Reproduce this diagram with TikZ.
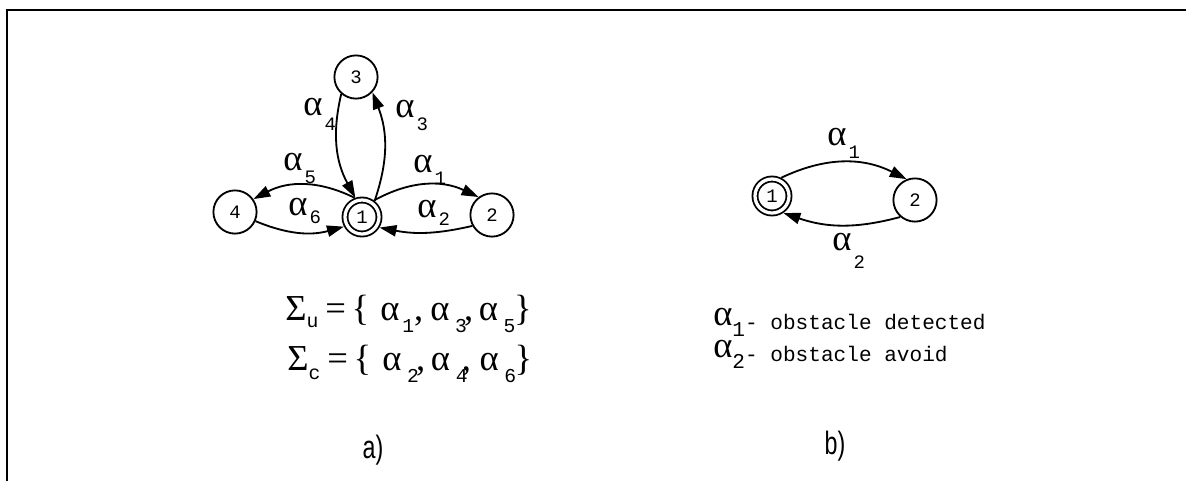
\documentclass[tikz,border=0pt]{standalone}
\usepackage{fontspec}
\setmainfont{Liberation Serif}
\setmonofont{Liberation Mono}
\newfontfamily\capfont[FakeStretch=0.72]{Liberation Sans}
\usepackage{tikz}
\usetikzlibrary{arrows.meta}

\newcommand{\numfont}{\ttfamily\fontsize{13.5}{14}\selectfont}
\newcommand{\legfont}{\ttfamily\fontsize{15}{15}\selectfont}
% alpha with a lowered mono index
\newcommand{\alab}[2][10pt]{α\hspace{1.5pt}\raisebox{-#1}{\numfont #2}}
\newcommand{\sd}[2][9pt]{\raisebox{-#1}{\ttfamily\fontsize{14}{14}\selectfont #2}}

\begin{document}
\begin{tikzpicture}[x=0.025cm, y=-0.025cm,
  st/.style={draw, circle, line width=1.3pt, minimum size=1.08cm, inner sep=0pt, font=\numfont},
  acc/.style={st, double, double distance=2.3pt, minimum size=0.85cm, outer sep=2.5pt},
  arr/.style={-{Triangle[length=12pt,width=8pt]}, line width=1.3pt},
  lbl/.style={anchor=base west, inner sep=0pt, font=\fontsize{26}{28}\selectfont},
  captxt/.style={inner sep=0pt, font=\capfont\fontsize{23}{26}\selectfont},
]
\useasboundingbox (0,0) rectangle (1186,481);
\draw[line width=2pt] (7,481) -- (7,10) -- (1186,10);

% a) automaton
\node[st]  (a3) at (356,77)  {3};
\node[acc] (a1) at (362,217) {1};
\node[st]  (a4) at (235,212) {4};
\node[st]  (a2) at (492,215) {2};
\draw[arr] (a3.229) to[bend right=21] (a1.109);
\draw[arr] (a1.52)  to[bend right=20] (a3.317);
\draw[arr] (a1.111) to[bend right=27] (a4.35);
\draw[arr] (a4.336) to[bend right=19] (a1.208);
\draw[arr] (a1.54)  to[bend left=27]  (a2.127);
\draw[arr] (a2.209) to[bend left=12]  (a1.329);
\node[lbl] (l4) at (303,115) {\alab[11pt]{4}};
\node[lbl] (l3) at (395,117) {\alab[9.5pt]{3}};
\node[lbl] (l5) at (283,170) {\alab[9.5pt]{5}};
\node[lbl] (l6) at (288,215) {\alab[6pt]{6}};
\node[lbl] (l1) at (413,172) {\alab[9pt]{1}};
\node[lbl] (l2) at (417,217) {\alab[6pt]{2}};
\node[lbl] (su) at (285,320) {Σ\sd[5pt]{u}\hspace{5pt}=\hspace{4pt}\{\hspace{8pt}α\hspace{2pt}\sd{1},\hspace{5pt}α\hspace{4pt}\sd{3}\kern-2pt,\hspace{4pt}α\hspace{4pt}\sd{5}\kern-1pt\}};
\node[lbl] (sc) at (287,370) {Σ\sd[7pt]{c}\hspace{5pt}=\hspace{4pt}\{\hspace{8pt}α\hspace{4pt}\sd{2}\kern-2pt,\hspace{4pt}α\hspace{4pt}\sd{4}\kern-4pt,\hspace{6pt}α\hspace{4pt}\sd{6}\kern-1pt\}};
\node[captxt] (ca) at (373,450) {a)};

% b) automaton
\node[acc] (b1) at (772,196) {1};
\node[st]  (b2) at (915,200) {2};
\draw[arr] (b1.63)  to[bend left=26] (b2.112);
\draw[arr] (b2.229) to[bend left=17] (b1.304);
\node[lbl] (m1) at (827,145) {\alab[9.5pt]{1}};
\node[lbl] (m2) at (832,250) {\alab[13pt]{2}};
\node[lbl] (g1) at (713,325) {α\raisebox{-8.5pt}{\legfont 1}\raisebox{-3.5pt}{\legfont - obstacle detected}};
\node[lbl] (g2) at (713,357) {α\raisebox{-8.5pt}{\legfont 2}\raisebox{-3.5pt}{\legfont - obstacle avoid}};
\node[captxt] (cb) at (835,446) {b)};
\end{tikzpicture}
\end{document}
